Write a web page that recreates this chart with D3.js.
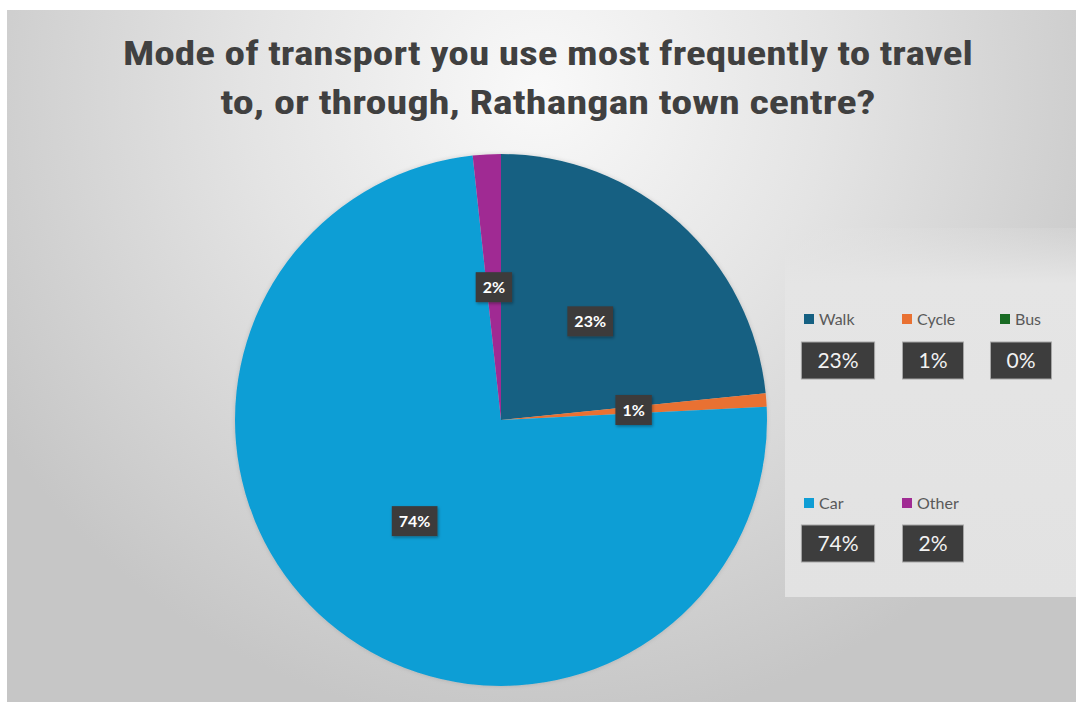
<!DOCTYPE html>
<html>
<head>
<meta charset="utf-8">
<script src="https://cdn.jsdelivr.net/npm/d3@7"></script>
<style>
  html, body { margin: 0; padding: 0; background: #ffffff; }
  svg { display: block; }
</style>
</head>
<body>
<svg id="chart" width="1076" height="702"></svg>
<script>
// ---- data ----
const categories = ["Walk", "Cycle", "Bus", "Car", "Other"];
const values = [23.4, 0.8, 0, 74.1, 1.7];
const colors = ["#156082", "#E97132", "#196B24", "#0F9ED5", "#A02B93"];
const titleLines = ["Mode of transport you use most frequently to travel",
                    "to, or through, Rathangan town centre?"];

const svg = d3.select("#chart");
const W = 1076, H = 702;
const defs = svg.append("defs");

// background gradient
const bg = defs.append("radialGradient").attr("id", "bgGrad")
  .attr("gradientUnits", "userSpaceOnUse")
  .attr("cx", 540).attr("cy", 90).attr("r", 640);
bg.append("stop").attr("offset", "0").attr("stop-color", "#f9f9f9");
bg.append("stop").attr("offset", "0.45").attr("stop-color", "#e4e4e4");
bg.append("stop").attr("offset", "1").attr("stop-color", "#c6c6c6");

const panelGrad = defs.append("linearGradient").attr("id", "panelGrad")
  .attr("x1", 0).attr("y1", 0).attr("x2", 0).attr("y2", 1);
panelGrad.append("stop").attr("offset", "0").attr("stop-color", "#e3e3e3").attr("stop-opacity", 0.2);
panelGrad.append("stop").attr("offset", "0.15").attr("stop-color", "#e5e5e5").attr("stop-opacity", 1);
panelGrad.append("stop").attr("offset", "1").attr("stop-color", "#e2e2e2").attr("stop-opacity", 1);

const shadow = defs.append("filter").attr("id", "boxShadow")
  .attr("x", "-30%").attr("y", "-30%").attr("width", "160%").attr("height", "160%");
shadow.append("feDropShadow").attr("dx", 1).attr("dy", 1.5).attr("stdDeviation", 1.5)
  .attr("flood-color", "#000").attr("flood-opacity", 0.35);

const pieShadow = defs.append("filter").attr("id", "pieShadow")
  .attr("x", "-10%").attr("y", "-10%").attr("width", "120%").attr("height", "120%");
pieShadow.append("feDropShadow").attr("dx", 0).attr("dy", 0).attr("stdDeviation", 2)
  .attr("flood-color", "#000").attr("flood-opacity", 0.15);

svg.append("rect").attr("x", 7).attr("y", 10).attr("width", W - 7).attr("height", H - 10)
  .attr("fill", "url(#bgGrad)");

// legend panel (lighter area)
svg.append("rect").attr("x", 785).attr("y", 228).attr("width", W - 785).attr("height", 369)
  .attr("fill", "url(#panelGrad)");

// title
const titleG = svg.append("g");
const titleY = [65, 114];
const titleW = [850, 655];
titleLines.forEach((t, i) => {
  titleG.append("text")
    .attr("x", 548).attr("y", titleY[i])
    .attr("text-anchor", "middle")
    .attr("font-family", "'Liberation Sans Narrow', 'Roboto Condensed', 'DejaVu Sans Condensed', 'Liberation Sans', sans-serif")
    .attr("font-weight", "bold")
    .attr("font-size", 33)
    .attr("fill", "#404040")
    .attr("textLength", titleW[i])
    .attr("lengthAdjust", "spacingAndGlyphs")
    .text(t);
});

// pie
const cx = 501, cy = 420, R = 266;
const pie = d3.pie().sort(null).value(d => d.v);
const data = categories.map((c, i) => ({ c, v: values[i], color: colors[i] }));
const arcs = pie(data);
const arc = d3.arc().innerRadius(0).outerRadius(R);
const pieG = svg.append("g").attr("transform", `translate(${cx},${cy})`);
pieG.append("g").attr("filter", "url(#pieShadow)")
  .selectAll("path").data(arcs.filter(d => d.data.v > 0)).join("path")
  .attr("d", arc).attr("fill", d => d.data.color);

// slice labels
const fmt = v => Math.round(v) + "%";
const labG = pieG.selectAll("g.lab").data(arcs.filter(d => d.data.v > 0)).join("g")
  .attr("class", "lab")
  .attr("transform", d => `translate(${arc.centroid(d)})`);
labG.each(function(d) {
  const g = d3.select(this);
  const rect = g.append("rect").attr("fill", "#3d3b3b").attr("filter", "url(#boxShadow)");
  const txt = g.append("text")
    .attr("text-anchor", "middle").attr("dy", "0.36em")
    .attr("font-family", "Lato, 'Liberation Sans', sans-serif")
    .attr("font-weight", "bold").attr("font-size", 16)
    .attr("fill", "#ffffff").text(fmt(d.data.v));
  const w = txt.node().getComputedTextLength();
  rect.attr("x", -w / 2 - 7).attr("y", -15).attr("width", w + 14).attr("height", 30);
});

// legend
const legCols = [804, 902, 1000];
const legBoxCx = [838, 933, 1021];
const legRows = [319, 503];
const legBoxTop = [342, 525];
data.forEach((d, i) => {
  const row = i < 3 ? 0 : 1;
  const col = i < 3 ? i : i - 3;
  const g = svg.append("g");
  g.append("rect").attr("x", legCols[col]).attr("y", legRows[row] - 5)
    .attr("width", 10).attr("height", 10).attr("fill", d.color);
  g.append("text").attr("x", legCols[col] + 15).attr("y", legRows[row] + 6)
    .attr("font-family", "Lato, 'Liberation Sans', sans-serif")
    .attr("font-size", 16).attr("fill", "#595959").text(d.c);
  const rect = g.append("rect").attr("fill", "#3d3d3d").attr("stroke", "#a6a6a6").attr("stroke-width", 1);
  const t = g.append("text").attr("x", legBoxCx[col]).attr("y", legBoxTop[row] + 26)
    .attr("text-anchor", "middle")
    .attr("font-family", "Lato, 'Liberation Sans', sans-serif")
    .attr("font-size", 21).attr("fill", "#f2f2f2").text(fmt(d.v));
  const w = t.node().getComputedTextLength();
  rect.attr("x", legBoxCx[col] - w / 2 - 16).attr("y", legBoxTop[row])
    .attr("width", w + 32).attr("height", 37);
});
</script>
</body>
</html>
